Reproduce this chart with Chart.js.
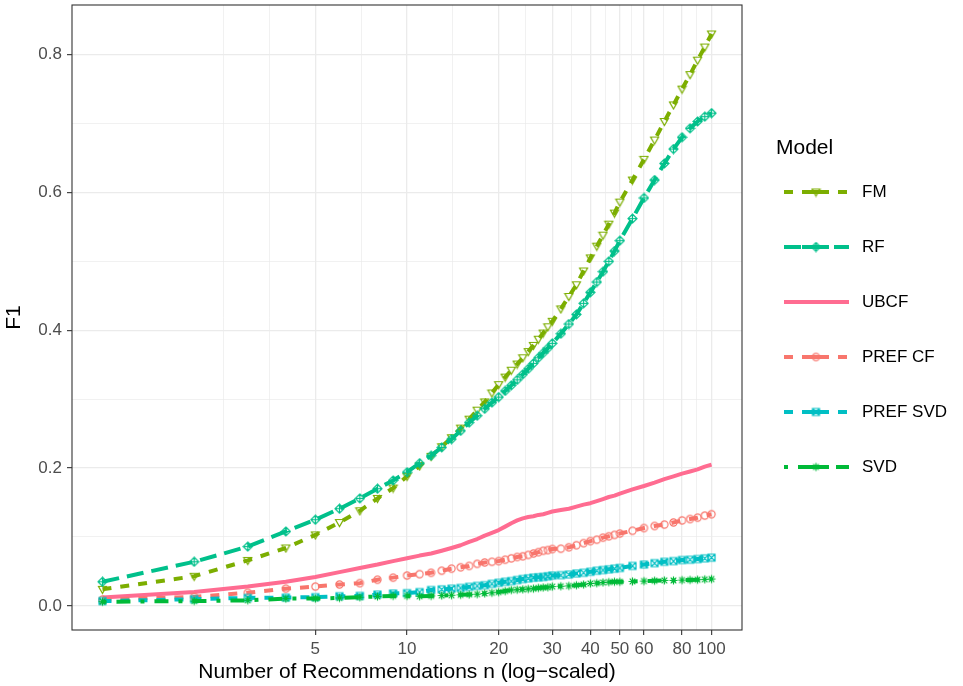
<!DOCTYPE html>
<html>
<head>
<meta charset="utf-8">
<script src="https://cdn.jsdelivr.net/npm/chart.js@4.4.1/dist/chart.umd.min.js"></script>
<style>
  html, body { margin: 0; padding: 0; background: #ffffff; }
  #wrap { width: 963px; height: 686px; }
</style>
</head>
<body>
<div id="wrap"><canvas id="f1Chart"></canvas></div>
<script>
// number of recommendations (x values)
const nValues = [1, 2, 3, 4, 5, 6, 7, 8, 9, 10, 11, 12, 13, 14, 15, 16, 17, 18, 19, 20,
  21, 22, 23, 24, 25, 26, 27, 28, 29, 30, 32, 34, 36, 38, 40, 42, 44, 46, 48, 50,
  55, 60, 65, 70, 75, 80, 85, 90, 95, 100];

const modelNames = ['FM', 'RF', 'UBCF', 'PREF CF', 'PREF SVD', 'SVD'];

// F1 per model
const fmF1 = [0.024, 0.043, 0.066, 0.084, 0.103, 0.121, 0.138, 0.156, 0.171, 0.188,
  0.203, 0.217, 0.231, 0.244, 0.258, 0.271, 0.284, 0.296, 0.309, 0.321,
  0.332, 0.342, 0.351, 0.360, 0.369, 0.378, 0.387, 0.396, 0.405, 0.413,
  0.431, 0.449, 0.466, 0.486, 0.505, 0.522, 0.538, 0.554, 0.570, 0.586,
  0.618, 0.648, 0.676, 0.703, 0.727, 0.750, 0.771, 0.792, 0.811, 0.830];
const rfF1 = [0.035, 0.064, 0.086, 0.108, 0.125, 0.141, 0.156, 0.170, 0.182, 0.194,
  0.207, 0.218, 0.230, 0.242, 0.254, 0.266, 0.276, 0.286, 0.295, 0.303,
  0.312, 0.320, 0.328, 0.336, 0.344, 0.352, 0.360, 0.367, 0.374, 0.381,
  0.395, 0.409, 0.423, 0.439, 0.455, 0.470, 0.485, 0.500, 0.515, 0.530,
  0.562, 0.592, 0.618, 0.642, 0.663, 0.680, 0.693, 0.703, 0.710, 0.715];
const ubcfF1 = [0.012, 0.020, 0.028, 0.035, 0.042, 0.049, 0.055, 0.060, 0.065, 0.069,
  0.073, 0.076, 0.080, 0.084, 0.088, 0.093, 0.097, 0.102, 0.106, 0.110,
  0.115, 0.120, 0.124, 0.127, 0.129, 0.130, 0.132, 0.133, 0.135, 0.137,
  0.139, 0.141, 0.144, 0.147, 0.149, 0.152, 0.155, 0.158, 0.160, 0.163,
  0.169, 0.174, 0.179, 0.184, 0.188, 0.192, 0.195, 0.198, 0.202, 0.205];
const prefCfF1 = [0.009, 0.013, 0.019, 0.025, 0.028, 0.031, 0.033, 0.038, 0.041, 0.044,
  0.046, 0.048, 0.051, 0.054, 0.056, 0.058, 0.061, 0.063, 0.064, 0.065,
  0.067, 0.069, 0.071, 0.072, 0.074, 0.076, 0.078, 0.080, 0.081, 0.0825,
  0.083, 0.085, 0.088, 0.091, 0.094, 0.096, 0.099, 0.101, 0.103, 0.105,
  0.109, 0.113, 0.116, 0.118, 0.121, 0.124, 0.126, 0.128, 0.131, 0.133];
const prefSvdF1 = [0.007, 0.0097, 0.0116, 0.012, 0.0127, 0.014, 0.0145, 0.0165, 0.018, 0.0185,
  0.020, 0.023, 0.024, 0.025, 0.026, 0.0276, 0.029, 0.030, 0.032, 0.0335,
  0.035, 0.036, 0.0375, 0.039, 0.040, 0.041, 0.0415, 0.042, 0.043, 0.044,
  0.0446, 0.0455, 0.047, 0.048, 0.0495, 0.051, 0.052, 0.053, 0.054, 0.055,
  0.058, 0.060, 0.062, 0.064, 0.065, 0.0665, 0.067, 0.068, 0.069, 0.070];
const svdF1 = [0.006, 0.007, 0.008, 0.0106, 0.0106, 0.0116, 0.0126, 0.0136, 0.0145, 0.0145,
  0.014, 0.0145, 0.015, 0.0155, 0.016, 0.0165, 0.017, 0.018, 0.019, 0.020,
  0.0215, 0.023, 0.0235, 0.024, 0.0245, 0.025, 0.026, 0.0266, 0.027, 0.028,
  0.0285, 0.029, 0.030, 0.031, 0.0325, 0.033, 0.034, 0.0345, 0.035, 0.035,
  0.0355, 0.036, 0.0365, 0.037, 0.037, 0.0374, 0.0377, 0.038, 0.0385, 0.039];

// axis breaks
const xMajorTicks = [5, 10, 20, 30, 40, 50, 60, 80, 100];
const xMinorTicks = [2.5, 3.536, 7.071, 14.142, 24.495, 34.641, 44.721, 54.772, 69.282, 89.443];
const yMajorTicks = [0, 0.2, 0.4, 0.6, 0.8];
const yMinorTicks = [0.1, 0.3, 0.5, 0.7];

const FONT = '"Liberation Sans", Arial, Helvetica, sans-serif';

// small marker images like the ggplot shapes
function makeMarker(color, kind) {
  const c = document.createElement('canvas');
  c.width = 11; c.height = 11;
  const g = c.getContext('2d');
  g.strokeStyle = color;
  g.lineWidth = 1.2;
  g.beginPath();
  if (kind === 'triDown') {
    g.moveTo(1.5, 2.5); g.lineTo(9.5, 2.5); g.lineTo(5.5, 9.5); g.closePath();
  } else if (kind === 'diamondPlus') {
    g.moveTo(5.5, 1); g.lineTo(10, 5.5); g.lineTo(5.5, 10); g.lineTo(1, 5.5); g.closePath();
    g.moveTo(5.5, 1); g.lineTo(5.5, 10); g.moveTo(1, 5.5); g.lineTo(10, 5.5);
  } else if (kind === 'circle') {
    g.arc(5.5, 5.5, 3.6, 0, Math.PI * 2);
  } else if (kind === 'squareCross') {
    g.rect(2, 2, 7, 7);
    g.moveTo(2, 2); g.lineTo(9, 9); g.moveTo(9, 2); g.lineTo(2, 9);
  } else if (kind === 'asterisk') {
    g.moveTo(5.5, 1.5); g.lineTo(5.5, 9.5); g.moveTo(1.5, 5.5); g.lineTo(9.5, 5.5);
    g.moveTo(2.7, 2.7); g.lineTo(8.3, 8.3); g.moveTo(8.3, 2.7); g.lineTo(2.7, 8.3);
  }
  g.stroke();
  return c;
}

const dashes = {
  dashed: [9, 9],
  longdash: [17, 8],
  dotdash: [4, 10, 14, 10],
  solid: []
};

const seriesValues = [fmF1, rfF1, ubcfF1, prefCfF1, prefSvdF1, svdF1];
const seriesColors = ['#7CAE00', '#00C08B', '#FF6C91', '#F8766D', '#00BFC4', '#00BA38'];
const seriesLines = ['dashed', 'longdash', 'solid', 'dashed', 'dashed', 'dotdash'];
const seriesShapes = ['triDown', 'diamondPlus', null, 'circle', 'squareCross', 'asterisk'];

const datasets = modelNames.map(function (name, i) {
  const marker = seriesShapes[i] ? makeMarker(seriesColors[i], seriesShapes[i]) : false;
  return {
    label: name,
    data: nValues.map((n, k) => ({ x: n, y: seriesValues[i][k] })),
    borderColor: seriesColors[i],
    backgroundColor: seriesColors[i],
    borderWidth: 4,
    borderDash: dashes[seriesLines[i]],
    borderJoinStyle: 'round',
    pointStyle: marker,
    pointRadius: marker ? 5 : 0,
    pointHoverRadius: 0,
    tension: 0,
    order: modelNames.length - i
  };
});

// panel border on top of the data
const panelBorder = {
  id: 'panelBorder',
  afterDatasetsDraw(chart) {
    const a = chart.chartArea;
    const ctx = chart.ctx;
    ctx.save();
    ctx.strokeStyle = '#333333';
    ctx.lineWidth = 1.1;
    ctx.strokeRect(a.left, a.top, a.right - a.left, a.bottom - a.top);
    ctx.restore();
  }
};

// ggplot-like legend on the right
const modelLegend = {
  id: 'modelLegend',
  afterDraw(chart) {
    const ctx = chart.ctx;
    ctx.save();
    ctx.textBaseline = 'middle';
    ctx.fillStyle = '#000000';
    ctx.font = '21px ' + FONT;
    ctx.fillText('Model', 776, 148);
    chart.data.datasets.forEach(function (ds, i) {
      const y = 192 + i * 55;
      ctx.strokeStyle = ds.borderColor;
      ctx.lineWidth = 4;
      ctx.lineCap = 'butt';
      ctx.setLineDash(ds.borderDash);
      ctx.beginPath(); ctx.moveTo(784, y); ctx.lineTo(849, y); ctx.stroke();
      ctx.setLineDash([]);
      if (ds.borderDash.length) {
        ctx.beginPath(); ctx.moveTo(802, y); ctx.lineTo(829, y); ctx.stroke();
      }
      if (ds.pointStyle) {
        ctx.drawImage(ds.pointStyle, 816 - 5.5, y - 5.5);
      }
      ctx.fillStyle = '#000000';
      ctx.font = '17px ' + FONT;
      ctx.fillText(ds.label, 862, y);
    });
    ctx.restore();
  }
};

function tickList(major, minor) {
  return major.map(v => ({ value: v, major: true }))
    .concat(minor.map(v => ({ value: v, major: false })))
    .sort((a, b) => a.value - b.value);
}

new Chart(document.getElementById('f1Chart'), {
  type: 'line',
  data: { datasets: datasets },
  options: {
    responsive: true,
    maintainAspectRatio: false,
    animation: false,
    layout: { autoPadding: false, padding: { top: 5, right: 221, left: 0, bottom: 0 } },
    plugins: { legend: { display: false }, tooltip: { enabled: false } },
    scales: {
      x: {
        type: 'logarithmic',
        min: 0.7943,
        max: 125.89,
        afterBuildTicks: function (s) { s.ticks = tickList(xMajorTicks, xMinorTicks); },
        afterFit: function (s) { s.height = 56; },
        ticks: {
          autoSkip: false,
          maxRotation: 0,
          padding: 4,
          color: '#4D4D4D',
          font: { size: 17, family: FONT },
          callback: function (v, i, ticks) { return ticks[i].major ? String(v) : ''; }
        },
        grid: {
          color: '#EBEBEB',
          lineWidth: ctx => (ctx.tick && ctx.tick.major ? 1.3 : 0.7),
          tickLength: 5,
          tickWidth: 1.1,
          tickColor: ctx => (ctx.tick && ctx.tick.major ? '#333333' : 'rgba(0,0,0,0)')
        },
        border: { display: false },
        title: {
          display: true,
          text: 'Number of Recommendations n (log\u2212scaled)',
          color: '#000000',
          font: { size: 21, family: FONT, lineHeight: 1.2 },
          padding: { top: 0, bottom: 1 }
        }
      },
      y: {
        type: 'linear',
        min: -0.035,
        max: 0.872,
        afterBuildTicks: function (s) { s.ticks = tickList(yMajorTicks, yMinorTicks); },
        afterFit: function (s) { s.width = 72; s.paddingTop = 0; s.paddingBottom = 0; },
        ticks: {
          autoSkip: false,
          padding: 5,
          color: '#4D4D4D',
          font: { size: 17, family: FONT },
          callback: function (v, i, ticks) { return ticks[i].major ? v.toFixed(1) : ''; }
        },
        grid: {
          color: '#EBEBEB',
          lineWidth: ctx => (ctx.tick && ctx.tick.major ? 1.3 : 0.7),
          tickLength: 5,
          tickWidth: 1.1,
          tickColor: ctx => (ctx.tick && ctx.tick.major ? '#333333' : 'rgba(0,0,0,0)')
        },
        border: { display: false },
        title: {
          display: true,
          text: 'F1',
          color: '#000000',
          font: { size: 21, family: FONT, lineHeight: 1.2 },
          padding: { top: 2, bottom: 0 }
        }
      }
    }
  },
  plugins: [panelBorder, modelLegend]
});
</script>
</body>
</html>
